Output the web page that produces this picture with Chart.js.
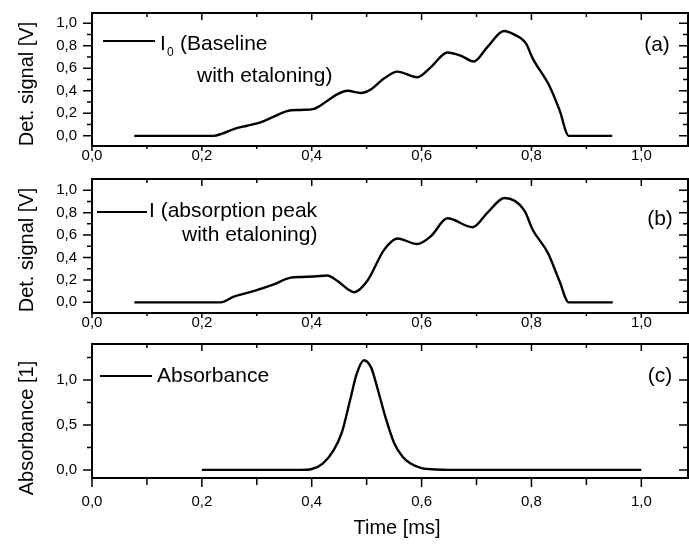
<!DOCTYPE html>
<html>
<head>
<meta charset="utf-8">
<script src="https://cdn.jsdelivr.net/npm/chart.js@4/dist/chart.umd.min.js"></script>
<style>
  html, body { margin: 0; padding: 0; background: #fff; }
  #wrap { position: relative; width: 689px; height: 552px; overflow: hidden; }
  canvas { position: absolute; left: 0; }
</style>
</head>
<body>
<div id="wrap">
  <canvas id="chartA" width="689" height="170" style="top:0"></canvas>
  <canvas id="chartB" width="689" height="170" style="top:170px"></canvas>
  <canvas id="chartC" width="689" height="212" style="top:340px"></canvas>
</div>
<script>
// (a) baseline I0 (time in ms, signal in V)
const timeA = [0.077, 0.221, 0.237, 0.258, 0.282, 0.307, 0.331, 0.355, 0.380, 0.404, 0.428, 0.447, 0.465, 0.489, 0.507, 0.532, 0.556, 0.592, 0.617, 0.647, 0.672, 0.695, 0.720, 0.750, 0.768, 0.790, 0.802, 0.833, 0.851, 0.868, 0.947];
const signalA = [0, 0, 0.02, 0.06, 0.09, 0.12, 0.17, 0.22, 0.23, 0.24, 0.31, 0.37, 0.40, 0.38, 0.41, 0.51, 0.57, 0.52, 0.61, 0.74, 0.71, 0.66, 0.79, 0.93, 0.90, 0.82, 0.69, 0.44, 0.23, 0, 0];

// (b) signal I with the absorption peak
const timeB = [0.077, 0.234, 0.258, 0.294, 0.331, 0.362, 0.404, 0.428, 0.447, 0.465, 0.477, 0.501, 0.532, 0.556, 0.592, 0.617, 0.647, 0.693, 0.720, 0.751, 0.787, 0.802, 0.830, 0.851, 0.868, 0.948];
const signalB = [0, 0, 0.05, 0.10, 0.16, 0.22, 0.23, 0.24, 0.19, 0.12, 0.09, 0.19, 0.47, 0.57, 0.52, 0.59, 0.75, 0.67, 0.80, 0.93, 0.82, 0.65, 0.44, 0.19, 0, 0];

// (c) absorbance
const timeC = [0.200, 0.380, 0.400, 0.420, 0.440, 0.455, 0.470, 0.482, 0.495, 0.508, 0.520, 0.535, 0.550, 0.565, 0.580, 0.600, 0.625, 0.650, 1.000];
const absC = [0, 0, 0.01, 0.07, 0.22, 0.42, 0.78, 1.07, 1.22, 1.14, 0.90, 0.57, 0.30, 0.15, 0.07, 0.02, 0.005, 0, 0];

// ticks (labels only on the major ones)
const xTicks = [0, 0.1, 0.2, 0.3, 0.4, 0.5, 0.6, 0.7, 0.8, 0.9, 1.0];
const xMajor = 0.2;
const yTicksDet = [0, 0.1, 0.2, 0.3, 0.4, 0.5, 0.6, 0.7, 0.8, 0.9, 1.0];
const yMajorDet = 0.2;
const yTicksAbs = [0, 0.25, 0.5, 0.75, 1.0, 1.25];
const yMajorAbs = 0.5;

const FONT = '"Liberation Sans", Arial, sans-serif';
const fmt = (v) => v.toFixed(1).replace(".", ",");
const isMajor = (v, step) => Math.abs(v / step - Math.round(v / step)) < 1e-6;

// box, inward/outward ticks, legend key and free texts
const framePlugin = {
  id: "frame",
  afterDraw(chart, args, o) {
    const { ctx, chartArea: a } = chart;
    const x = chart.scales.x, y = chart.scales.y;
    ctx.save();
    ctx.strokeStyle = "#000";
    ctx.fillStyle = "#000";
    ctx.lineWidth = 2;
    ctx.strokeRect(a.left, a.top, a.right - a.left, a.bottom - a.top);

    ctx.lineWidth = 1.5;
    ctx.beginPath();
    xTicks.forEach((v) => {
      const p = x.getPixelForValue(v);
      const m = isMajor(v, xMajor);
      ctx.moveTo(p, a.bottom);
      ctx.lineTo(p, a.bottom + (m ? o.xLen : o.xLen - 2));
      ctx.moveTo(p, a.top);
      ctx.lineTo(p, a.top + (m ? 7 : 4));
    });
    o.yTicks.forEach((v) => {
      const p = y.getPixelForValue(v);
      const len = isMajor(v, o.yMajor) ? 9 : 5;
      ctx.moveTo(a.left, p);
      ctx.lineTo(a.left - len, p);
      ctx.moveTo(a.right, p);
      ctx.lineTo(a.right - len, p);
    });
    ctx.stroke();

    // legend sample
    ctx.lineWidth = 2.2;
    ctx.beginPath();
    ctx.moveTo(o.key.x1, o.key.y);
    ctx.lineTo(o.key.x2, o.key.y);
    ctx.stroke();

    ctx.textBaseline = "middle";
    o.texts.forEach((t) => {
      ctx.font = (t.size || 21) + "px " + FONT;
      ctx.textAlign = t.align || "left";
      if (t.rot) {
        ctx.save();
        ctx.translate(t.x, t.y);
        ctx.rotate(-Math.PI / 2);
        ctx.fillText(t.text, 0, 0);
        ctx.restore();
      } else {
        ctx.fillText(t.text, t.x, t.y);
      }
    });
    ctx.restore();
  },
};

function makeChart(id, times, values, c) {
  const ctx = document.getElementById(id).getContext("2d");
  return new Chart(ctx, {
    type: "line",
    data: {
      datasets: [
        {
          data: times.map((t, i) => ({ x: t, y: values[i] })),
          borderColor: "#000",
          borderWidth: 2.4,
          pointRadius: 0,
          fill: false,
          cubicInterpolationMode: "monotone",
        },
      ],
    },
    options: {
      responsive: false,
      animation: false,
      devicePixelRatio: 1,
      layout: { padding: { left: 0, right: 1, top: c.top, bottom: 0 } },
      plugins: {
        legend: { display: false },
        tooltip: { enabled: false },
        frame: c.frame,
      },
      scales: {
        x: {
          type: "linear",
          min: 0,
          max: 1.085,
          grid: { display: false, drawTicks: false },
          border: { display: false },
          afterBuildTicks: (s) => { s.ticks = xTicks.map((v) => ({ value: v })); },
          afterFit: (s) => { s.height = c.xHeight; s.paddingLeft = 0; s.paddingRight = 0; },
          ticks: {
            autoSkip: false,
            maxRotation: 0,
            padding: c.xPad,
            color: "#000",
            font: { family: FONT, size: 15 },
            callback: (v) => (isMajor(v, xMajor) ? fmt(v) : ""),
          },
        },
        y: {
          min: c.yMin,
          max: c.yMax,
          grid: { display: false, drawTicks: false },
          border: { display: false },
          afterBuildTicks: (s) => { s.ticks = c.frame.yTicks.map((v) => ({ value: v })); },
          afterFit: (s) => { s.width = 92; s.paddingTop = 0; s.paddingBottom = 0; },
          ticks: {
            autoSkip: false,
            padding: 15,
            color: "#000",
            font: { family: FONT, size: 15 },
            callback: (v) => (isMajor(v, c.frame.yMajor) ? fmt(v) : ""),
          },
        },
      },
    },
    plugins: [framePlugin],
  });
}

makeChart("chartA", timeA, signalA, {
  top: 13, xHeight: 24, xPad: 1, yMin: -0.09, yMax: 1.09,
  frame: {
    xLen: 5, yTicks: yTicksDet, yMajor: yMajorDet,
    key: { x1: 103, x2: 155, y: 41 },
    texts: [
      { text: "Det. signal [V]", x: 27, y: 84, rot: true, size: 20, align: "center" },
      { text: "I", x: 160, y: 44 },
      { text: "0", x: 167, y: 53, size: 12 },
      { text: "(Baseline", x: 180, y: 44 },
      { text: "with etaloning)", x: 197, y: 76 },
      { text: "(a)", x: 657, y: 45, align: "center" },
    ],
  },
});

makeChart("chartB", timeB, signalB, {
  top: 9, xHeight: 27, xPad: 1, yMin: -0.095, yMax: 1.1,
  frame: {
    xLen: 5, yTicks: yTicksDet, yMajor: yMajorDet,
    key: { x1: 97, x2: 147, y: 42 },
    texts: [
      { text: "Det. signal [V]", x: 27, y: 80, rot: true, size: 20, align: "center" },
      { text: "I (absorption peak", x: 149, y: 41 },
      { text: "with etaloning)", x: 182, y: 65 },
      { text: "(b)", x: 660, y: 49, align: "center" },
    ],
  },
});

makeChart("chartC", timeC, absC, {
  top: 4, xHeight: 74, xPad: 15, yMin: -0.09, yMax: 1.4,
  frame: {
    xLen: 9, yTicks: yTicksAbs, yMajor: yMajorAbs,
    key: { x1: 100, x2: 152, y: 36 },
    texts: [
      { text: "Absorbance [1]", x: 27, y: 88, rot: true, size: 20, align: "center" },
      { text: "Absorbance", x: 157, y: 36 },
      { text: "(c)", x: 660, y: 36, align: "center" },
      { text: "Time [ms]", x: 397, y: 188, size: 20, align: "center" },
    ],
  },
});
</script>
</body>
</html>
